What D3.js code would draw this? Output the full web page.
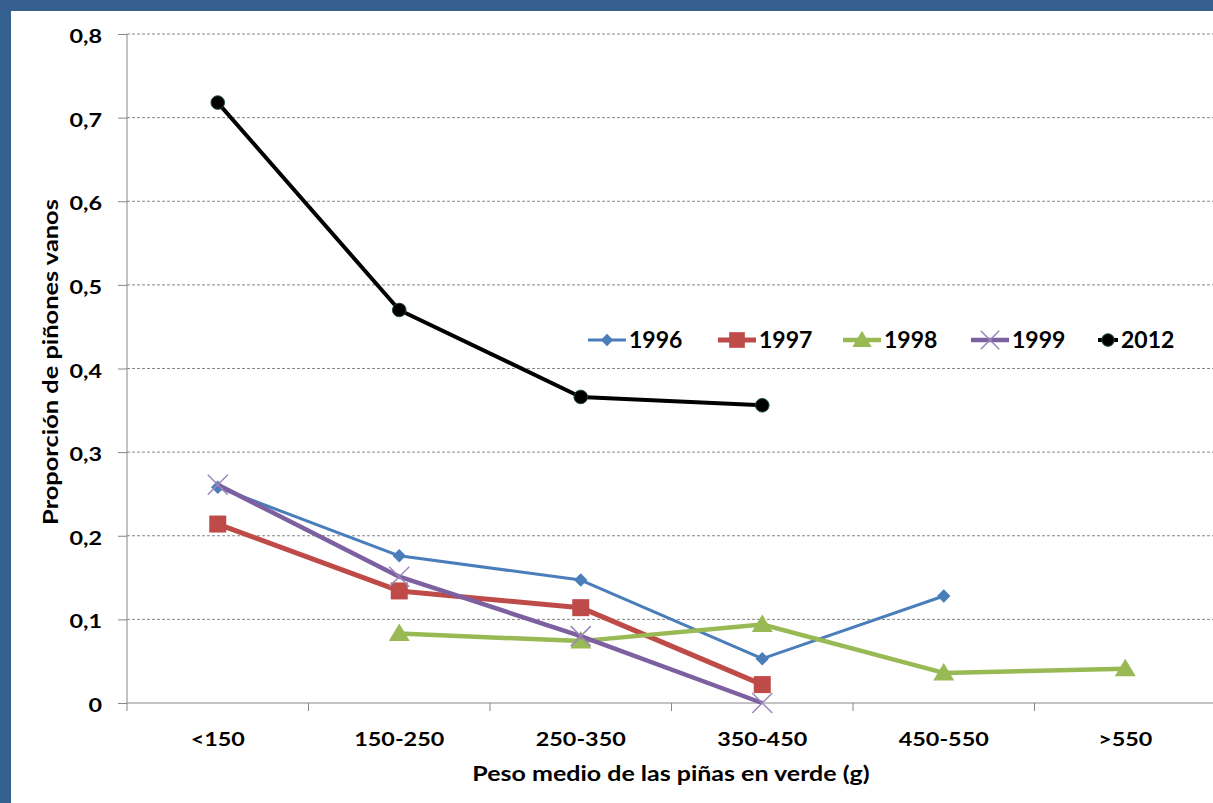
<!DOCTYPE html>
<html><head><meta charset="utf-8">
<script src="https://cdn.jsdelivr.net/npm/d3@7"></script>
<style>html,body{margin:0;padding:0;background:#fff;}svg{display:block;}</style>
</head><body>
<script>
const categories = ["<150","150-250","250-350","350-450","450-550",">550"];
const s1996 = [0.258, 0.176, 0.147, 0.053, 0.128, null];
const s1997 = [0.214, 0.134, 0.114, 0.022, null, null];
const s1998 = [null, 0.083, 0.074, 0.094, 0.036, 0.041];
const s1999 = [0.261, 0.151, 0.080, 0.0, null, null];
const s2012 = [0.718, 0.470, 0.366, 0.356, null, null];
const yTicks = [0,0.1,0.2,0.3,0.4,0.5,0.6,0.7,0.8];
const seriesNames = ["1996","1997","1998","1999","2012"];

const series = [
  {name:"1996", values:s1996, color:"#4a7ebb", width:3, marker:"diamond"},
  {name:"1997", values:s1997, color:"#be4b48", width:5, marker:"square"},
  {name:"1998", values:s1998, color:"#98b954", width:4.5, marker:"triangle"},
  {name:"1999", values:s1999, color:"#7d60a0", width:4.5, marker:"x"},
  {name:"2012", values:s2012, color:"#000000", width:4, marker:"circle"}
];

const W=1213,H=803;
const svg=d3.select("body").append("svg").attr("width",W).attr("height",H);
svg.append("rect").attr("width",W).attr("height",H).attr("fill","#35608f");
svg.append("rect").attr("x",11).attr("y",11).attr("width",W-11).attr("height",H-11).attr("fill","#fff");

const mLeft=127, mTop=34, mBottom=703, bandW=181.5;
const x=d3.scaleBand().domain(categories).range([mLeft,mLeft+bandW*categories.length]).padding(0);
const y=d3.scaleLinear().domain([0,0.8]).range([mBottom,mTop]);
const cx=c=>x(c)+x.bandwidth()/2;
const font="Lato, 'Open Sans', sans-serif";
const stretch=1.23;

// gridlines
svg.append("g").selectAll("line").data(yTicks.filter(d=>d>0)).join("line")
  .attr("x1",mLeft).attr("x2",W).attr("y1",d=>y(d)).attr("y2",d=>y(d))
  .attr("stroke","#868686").attr("stroke-width",1).attr("stroke-dasharray","3,2");

// y axis
const ya=svg.append("g").attr("transform",`translate(${mLeft},0)`)
  .call(d3.axisLeft(y).tickValues(yTicks).tickSize(9).tickPadding(16)
  .tickFormat(d=>d===0?"0":d3.format(".1f")(d).replace(".",",")));
ya.select(".domain").attr("stroke","#868686").attr("d",`M0,${mTop}V${mBottom}`);
ya.selectAll(".tick line").attr("stroke","#868686");
ya.selectAll("text").attr("font-family",font).attr("font-weight","bold").attr("font-size",19).attr("fill","#000")
  .attr("x",0).attr("dy","0.45em").attr("transform",`translate(-25,0) scale(${stretch},1)`);

// x axis
const xa=svg.append("g").attr("transform",`translate(0,${mBottom})`)
  .call(d3.axisBottom(x).tickSize(0).tickPadding(30));
xa.select(".domain").attr("stroke","#868686").attr("d",`M${mLeft},0H${W}`);
xa.selectAll("text").attr("font-family",font).attr("font-weight","bold").attr("font-size",19).attr("fill","#000")
  .attr("transform",`scale(${stretch},1)`);
svg.append("g").selectAll("line").data(categories).join("line")
  .attr("x1",d=>x(d)).attr("x2",d=>x(d)).attr("y1",mBottom).attr("y2",mBottom+8)
  .attr("stroke","#868686");

// titles
svg.append("text").attr("transform","translate(671,781) scale(1.25,1)").attr("text-anchor","middle")
  .attr("font-family",font).attr("font-weight","bold").attr("font-size",20)
  .text("Peso medio de las piñas en verde (g)");
svg.append("text").attr("transform","translate(58,362) rotate(-90) scale(1.27,1)").attr("text-anchor","middle")
  .attr("font-family",font).attr("font-weight","bold").attr("font-size",20)
  .text("Proporción de piñones vanos");

function drawMarker(g,type,color,px,py,scale=1){
  if(type==="diamond"){
    g.append("path").attr("d",d3.symbol(d3.symbolDiamond2, 115*scale)()).attr("transform",`translate(${px},${py})`).attr("fill",color);
  } else if(type==="square"){
    const s=17*Math.sqrt(scale);
    g.append("rect").attr("x",px-s/2).attr("y",py-s/2).attr("width",s).attr("height",s).attr("fill",color);
  } else if(type==="triangle"){
    const s=10*Math.sqrt(scale);
    g.append("path").attr("d",`M${px},${py-s}L${px+s*1.05},${py+s*0.75}L${px-s*1.05},${py+s*0.75}Z`).attr("fill",color);
  } else if(type==="x"){
    const s=10*Math.sqrt(scale);
    g.append("path").attr("d",`M${px-s},${py-s}L${px+s},${py+s}M${px-s},${py+s}L${px+s},${py-s}`)
      .attr("stroke","#9b87bb").attr("stroke-width",1.5).attr("fill","none");
  } else if(type==="circle"){
    g.append("circle").attr("cx",px).attr("cy",py).attr("r",6.8*Math.sqrt(scale)).attr("fill","#000").attr("stroke","#1e4a4a").attr("stroke-width",1);
  }
}

const line=d3.line().defined(d=>d.v!==null).x(d=>cx(d.c)).y(d=>y(d.v));
series.forEach(s=>{
  const pts=categories.map((c,i)=>({c,v:s.values[i]}));
  const g=svg.append("g");
  g.append("path").datum(pts).attr("d",line).attr("fill","none").attr("stroke",s.color)
    .attr("stroke-width",s.width).attr("stroke-linejoin","round");
  pts.filter(d=>d.v!==null).forEach(d=>drawMarker(g,s.marker,s.color,cx(d.c),y(d.v)));
});

// legend
const legX=[588,718,843,971,1098];
const lg=svg.append("g");
series.forEach((s,i)=>{
  const lx=legX[i], ly=340, len=i===4?20:38;
  lg.append("line").attr("x1",lx).attr("x2",lx+len).attr("y1",ly).attr("y2",ly).attr("stroke",s.color).attr("stroke-width",s.width);
  drawMarker(lg,s.marker,s.color,lx+len/2,ly,0.85);
  lg.append("text").attr("x",lx+len+3).attr("y",ly+8).attr("font-family",font).attr("font-weight","bold").attr("font-size",23).text(seriesNames[i]);
});
</script>
</body></html>
